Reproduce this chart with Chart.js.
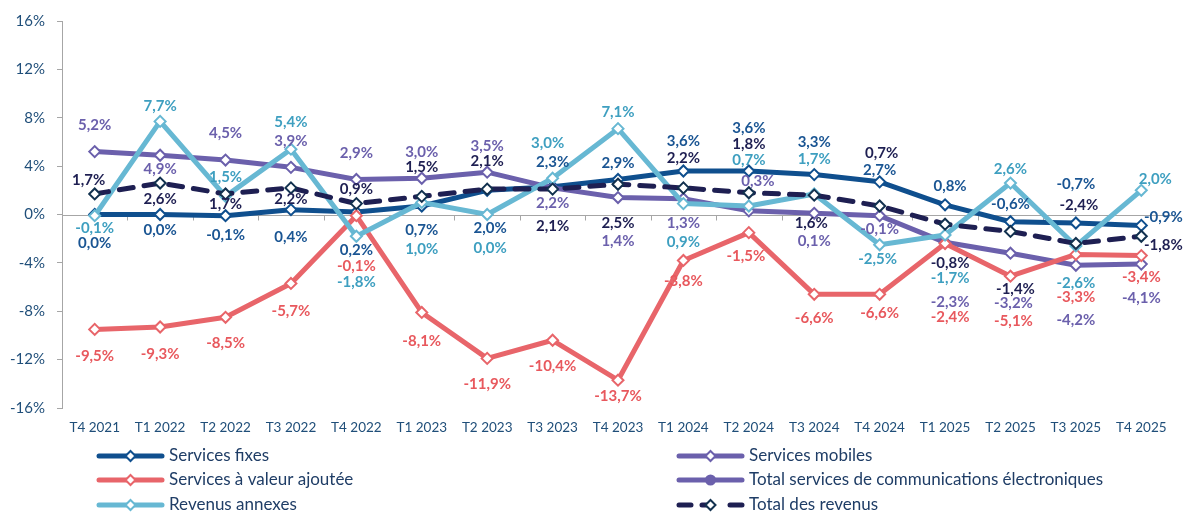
<!DOCTYPE html>
<html><head><meta charset="utf-8">
<script src="https://cdn.jsdelivr.net/npm/chart.js@4.4.1/dist/chart.umd.min.js"></script>
<style>html,body{margin:0;padding:0;background:#fff;}#wrap{width:1185px;height:513px;}</style>
</head><body><div id="wrap"><canvas id="c" width="1185" height="513"></canvas></div>
<script>
// ---- data ----
const categories = ['T4 2021','T1 2022','T2 2022','T3 2022','T4 2022','T1 2023','T2 2023','T3 2023','T4 2023','T1 2024','T2 2024','T3 2024','T4 2024','T1 2025','T2 2025','T3 2025','T4 2025'];
const servicesFixes   = [0.0, 0.0, -0.1, 0.4, 0.2, 0.7, 2.0, 2.3, 2.9, 3.6, 3.6, 3.3, 2.7, 0.8, -0.6, -0.7, -0.9];
const servicesMobiles = [5.2, 4.9, 4.5, 3.9, 2.9, 3.0, 3.5, 2.2, 1.4, 1.3, 0.3, 0.1, -0.1, -2.3, -3.2, -4.2, -4.1];
const valeurAjoutee   = [-9.5, -9.3, -8.5, -5.7, -0.1, -8.1, -11.9, -10.4, -13.7, -3.8, -1.5, -6.6, -6.6, -2.4, -5.1, -3.3, -3.4];
const totalServicesCE = []; // listed in the legend only, no points shown
const revenusAnnexes  = [-0.1, 7.7, 1.5, 5.4, -1.8, 1.0, 0.0, 3.0, 7.1, 0.9, 0.7, 1.7, -2.5, -1.7, 2.6, -2.6, 2.0];
const totalRevenus    = [1.7, 2.6, 1.7, 2.2, 0.9, 1.5, 2.1, 2.1, 2.5, 2.2, 1.8, 1.6, 0.7, -0.8, -1.4, -2.4, -1.8];
const yTickValues = [-16, -12, -8, -4, 0, 4, 8, 12, 16];

// ---- label placement (pixels relative to each point) ----
const dyFixes    = [29,16,19,27,38,24,38,-25,-16,-30,-43,-32,-12,-19,-18,-39,-8];
const dxFixes    = [0,0,0,0,0,0,3,0,0,0,0,0,0,5,0,0,22];
const dyMobiles  = [-26,14,-27,-26,-26,-26,-26,15,44,24,-30,28,13,60,50,55,34];
const dxMobiles  = [0,0,0,0,0,0,0,0,0,0,9,0,0,5,3,0,0];
const dyVA       = [27,27,26,28,50,29,26,26,16,21,24,24,19,74,45,43,22];
const dxVA       = [0,0,0,0,0,0,0,0,0,0,-3,0,0,5,3,0,0];
const dyAnnexes  = [12,-15,-19,-27,46,47,34,-35,-16,39,-46,-35,14,43,-14,37,-11];
const dxAnnexes  = [0,0,0,0,0,0,3,-5,0,0,0,0,-2,5,0,0,14];
const dyTotal    = [-14,16,10,11,-14,-29,-28,37,39,-30,-49,28,-53,39,58,-38,9];
const dxTotal    = [-6,0,0,0,0,0,0,0,0,0,0,-3,2,5,5,3,22];

const FONT = 'Lato, "Open Sans", sans-serif';
const C_FIX = '#0F4F8E', C_MOB = '#6B60AC', C_VA = '#E8656A', C_ANN = '#67B8D3', C_TOT = '#1E1F52';

const fmt = v => v.toFixed(1).replace('.', ',') + '%';

function ds(label, data, color, opts) {
  return Object.assign({
    label, data,
    borderColor: color, backgroundColor: color,
    borderWidth: 5, borderCapStyle: 'round', borderJoinStyle: 'round',
    pointStyle: 'rectRot', pointRadius: 5.5, pointHoverRadius: 5.5,
    pointBackgroundColor: '#FFFFFF', pointBorderColor: color, pointBorderWidth: 2,
    tension: 0, fill: false
  }, opts);
}

const datasets = [
  ds('Services fixes', servicesFixes, C_FIX, {order: 6, labelColor: '#1A5593', labelDy: dyFixes, labelDx: dxFixes}),
  ds('Services mobiles', servicesMobiles, C_MOB, {order: 5, labelColor: '#6B60AC', labelDy: dyMobiles, labelDx: dxMobiles}),
  ds('Services à valeur ajoutée', valeurAjoutee, C_VA, {order: 4, labelColor: '#E8585D', labelDy: dyVA, labelDx: dxVA}),
  ds('Total services de communications électroniques', totalServicesCE, C_MOB, {order: 3, pointStyle: 'circle', pointBackgroundColor: C_MOB, legendFilled: true}),
  ds('Revenus annexes', revenusAnnexes, C_ANN, {order: 2, labelColor: '#3E9FC0', labelDy: dyAnnexes, labelDx: dxAnnexes}),
  ds('Total des revenus', totalRevenus, C_TOT, {order: 1, borderDash: [14, 11], pointBorderColor: '#12314F', labelColor: '#1E1F52', labelDy: dyTotal, labelDx: dxTotal})
];

const zeroLinePlugin = {
  id: 'zeroLine',
  beforeDatasetsDraw(chart) {
    const {ctx, chartArea} = chart;
    const y0 = Math.round(chart.scales.y.getPixelForValue(0)) + 0.5;
    ctx.save();
    ctx.strokeStyle = '#A6A6A6'; ctx.lineWidth = 1;
    ctx.beginPath();
    ctx.moveTo(chartArea.left, y0); ctx.lineTo(chartArea.right, y0);
    const n = categories.length, w = (chartArea.right - chartArea.left) / n;
    for (let i = 1; i <= n; i++) {
      const x = Math.round(chartArea.left + i * w) + 0.5;
      ctx.moveTo(x, y0); ctx.lineTo(x, y0 + 5);
    }
    ctx.stroke();
    ctx.restore();
  }
};

const labelPlugin = {
  id: 'pointLabels',
  afterDatasetsDraw(chart) {
    const ctx = chart.ctx;
    ctx.save();
    ctx.font = 'bold 15px ' + FONT;
    ctx.textAlign = 'center'; ctx.textBaseline = 'middle';
    chart.data.datasets.forEach((d, di) => {
      if (!d.labelDy) return;
      const meta = chart.getDatasetMeta(di);
      ctx.fillStyle = d.labelColor;
      meta.data.forEach((pt, i) => {
        const v = d.data[i];
        if (v === null || v === undefined) return;
        ctx.fillText(fmt(v), pt.x + (d.labelDx ? d.labelDx[i] : 0), pt.y + d.labelDy[i]);
      });
    });
    ctx.restore();
  }
};

const legendPlugin = {
  id: 'customLegend',
  afterDraw(chart) {
    const ctx = chart.ctx;
    const columns = [{x: 97, items: [0, 2, 4]}, {x: 677, items: [1, 3, 5]}];
    const rows = [456, 480, 505];
    ctx.save();
    columns.forEach(col => {
      col.items.forEach((di, r) => {
        const d = chart.data.datasets[di];
        const y = rows[r];
        const x0 = col.x, x1 = col.x + 67, xm = (x0 + x1) / 2;
        ctx.strokeStyle = d.borderColor; ctx.lineWidth = 5; ctx.lineCap = 'round';
        ctx.beginPath();
        if (d.borderDash) {
          [[x0 + 2, x0 + 14], [x0 + 25, x0 + 32], [x1 - 14, x1 - 2]].forEach(s => { ctx.moveTo(s[0], y); ctx.lineTo(s[1], y); });
        } else {
          ctx.moveTo(x0 + 2, y); ctx.lineTo(x1 - 2, y);
        }
        ctx.stroke();
        ctx.lineWidth = 2;
        if (d.legendFilled) {
          ctx.fillStyle = d.borderColor;
          ctx.beginPath(); ctx.arc(xm, y, 5.5, 0, Math.PI * 2); ctx.fill();
        } else {
          ctx.fillStyle = '#FFFFFF';
          ctx.strokeStyle = d.pointBorderColor;
          ctx.beginPath();
          ctx.moveTo(xm, y - 5); ctx.lineTo(xm + 5, y); ctx.lineTo(xm, y + 5); ctx.lineTo(xm - 5, y); ctx.closePath();
          ctx.fill(); ctx.stroke();
        }
        ctx.fillStyle = '#1F3D66';
        ctx.font = '17px ' + FONT;
        ctx.textAlign = 'left'; ctx.textBaseline = 'middle';
        ctx.fillText(d.label, x1 + 5, y);
      });
    });
    ctx.restore();
  }
};

new Chart(document.getElementById('c'), {
  type: 'line',
  data: {labels: categories, datasets},
  options: {
    responsive: false, animation: false,
    layout: {padding: {top: 21, right: 11, left: 0, bottom: 0}},
    plugins: {legend: {display: false}, tooltip: {enabled: false}},
    scales: {
      x: {
        offset: true,
        grid: {display: false},
        border: {display: false},
        ticks: {color: '#1F4E79', font: {family: FONT, size: 13.5}, padding: 4, maxRotation: 0, autoSkip: false},
        afterFit: s => { s.height = 105; }
      },
      y: {
        min: -16, max: 16,
        afterBuildTicks: s => { s.ticks = yTickValues.map(v => ({value: v})); },
        grid: {display: true, drawOnChartArea: false, drawTicks: true, tickLength: 5, color: '#A6A6A6'},
        border: {display: true, color: '#A6A6A6', width: 1},
        ticks: {color: '#1F4E79', font: {family: FONT, size: 15}, padding: 12, callback: v => v + '%'},
        afterFit: s => { s.width = 62; }
      }
    }
  },
  plugins: [zeroLinePlugin, labelPlugin, legendPlugin]
});
</script>
</body></html>
